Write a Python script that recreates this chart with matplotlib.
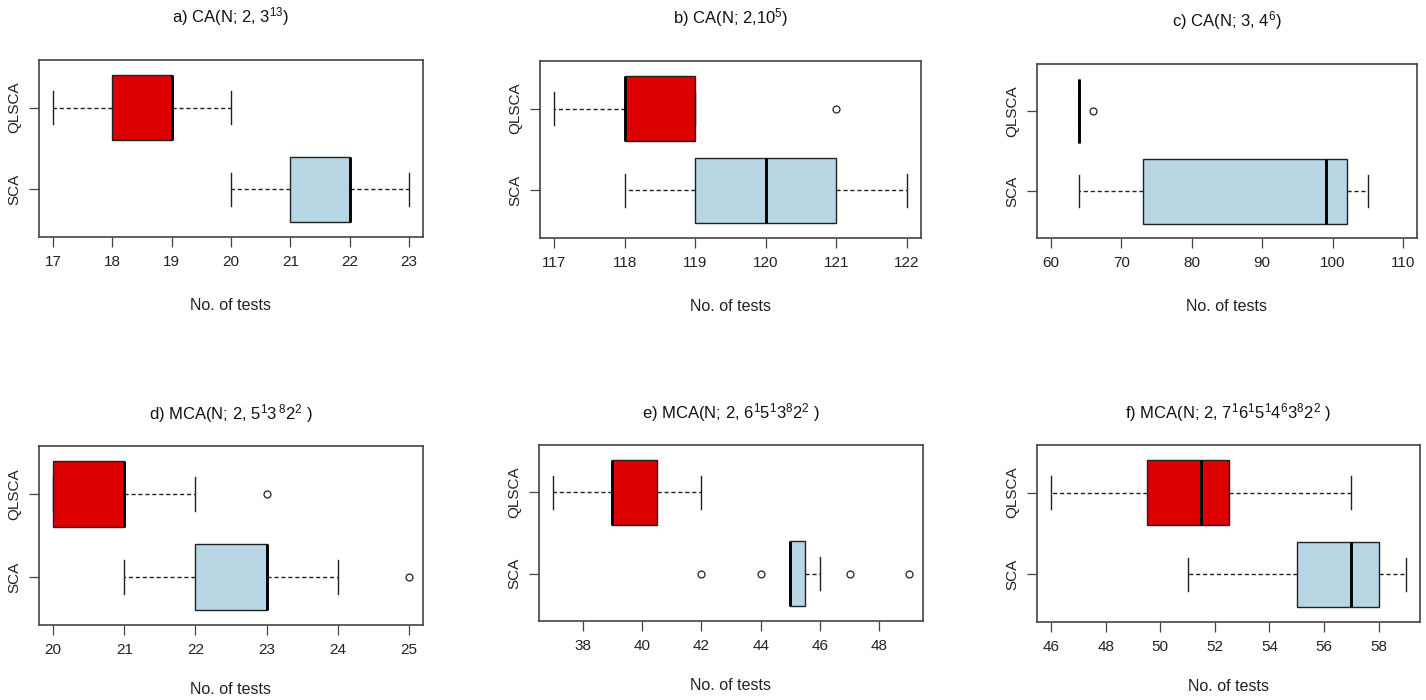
import matplotlib
matplotlib.use('Agg')
import matplotlib.pyplot as plt

plt.rcParams['font.family'] = ['Liberation Sans Narrow', 'Liberation Sans', 'DejaVu Sans']
plt.rcParams['mathtext.default'] = 'regular'

W, H = 1426, 700

# group names (bottom to top)
groups = ['SCA', 'QLSCA']

titles = [
    'a) CA(N; 2, 3$^{13}$)',
    'b) CA(N; 2,10$^{5}$)',
    'c) CA(N; 3, 4$^{6}$)',
    'd) MCA(N; 2, 5$^{1}$3$^{\\,8}$2$^{2}$ )',
    'e) MCA(N; 2, 6$^{1}$5$^{1}$3$^{8}$2$^{2}$ )',
    'f) MCA(N; 2, 7$^{1}$6$^{1}$5$^{1}$4$^{6}$3$^{8}$2$^{2}$ )',
]

# five-number summaries: whislo, q1, med, q3, whishi
qlsca_stats = [
    [17, 18, 19, 19, 20],
    [117, 118, 118, 119, 119],
    [64, 64, 64, 64, 64],
    [20, 20, 21, 21, 22],
    [37, 39, 39, 40.5, 42],
    [46, 49.5, 51.5, 52.5, 57],
]
qlsca_out = [[], [121], [66], [23], [], []]

sca_stats = [
    [20, 21, 22, 22, 23],
    [118, 119, 120, 121, 122],
    [64, 73, 99, 102, 105],
    [21, 22, 23, 23, 24],
    [45, 45, 45, 45.5, 46],
    [51, 55, 57, 58, 59],
]
sca_out = [[], [], [], [25], [42, 44, 47, 49], []]

x_ticks = [
    list(range(17, 24)),
    list(range(117, 123)),
    list(range(60, 111, 10)),
    list(range(20, 26)),
    list(range(38, 49, 2)),
    list(range(46, 59, 2)),
]
x_lims = [(16.76, 23.24), (116.8, 122.2), (58, 112), (19.8, 25.2), (36.52, 49.48), (45.48, 59.52)]

# axes boxes in pixels: left, top, right, bottom
boxes = [
    (39, 60, 423, 237), (540, 61, 921, 238), (1037, 64, 1417, 238),
    (39, 446, 423, 625), (539, 445, 923, 621), (1037, 445, 1420, 622),
]

fig = plt.figure(figsize=(W / 100, H / 100), dpi=100)
frame_col = '#444444'


def mk(s, out, label):
    return dict(whislo=s[0], q1=s[1], med=s[2], q3=s[3], whishi=s[4], fliers=out, label=label)


for i in range(6):
    l, t, r, b = boxes[i]
    ax = fig.add_axes([l / W, 1 - b / H, (r - l) / W, (b - t) / H])
    stats = [mk(sca_stats[i], sca_out[i], groups[0]), mk(qlsca_stats[i], qlsca_out[i], groups[1])]
    bp = ax.bxp(stats, positions=[1, 2], vert=False, widths=0.8, capwidths=0.4,
                patch_artist=True,
                boxprops=dict(edgecolor='#222222', linewidth=1.0),
                whiskerprops=dict(color='#222222', linestyle=(0, (3, 2)), linewidth=1.0),
                capprops=dict(color='#222222', linewidth=1.0),
                medianprops=dict(color='black', linewidth=2.1, solid_capstyle='butt'),
                flierprops=dict(marker='o', markersize=5, markerfacecolor='none',
                                markeredgecolor='#222222', markeredgewidth=0.9))
    bp['boxes'][0].set_facecolor('#b7d5e3')
    bp['boxes'][1].set_facecolor('#dd0000')
    ax.set_xlim(*x_lims[i])
    ax.set_ylim(0.42, 2.58)
    ax.set_xticks(x_ticks[i])
    ax.set_yticks([1, 2])
    ax.set_yticklabels(groups, rotation=90, va='center')
    ax.tick_params(axis='both', direction='out', length=7, width=0.9, color=frame_col,
                   labelsize=11, labelcolor='#222222', pad=6)
    for sp in ax.spines.values():
        sp.set_color(frame_col)
        sp.set_linewidth(1.2)
    top_row = i < 3
    ax.set_title(titles[i], fontsize=12, pad=27 if top_row else 19, color='#111111')
    ax.set_xlabel('No. of tests', fontsize=11.5, labelpad=21 if top_row else 18, color='#222222')

fig.savefig('out.png', dpi=100)
